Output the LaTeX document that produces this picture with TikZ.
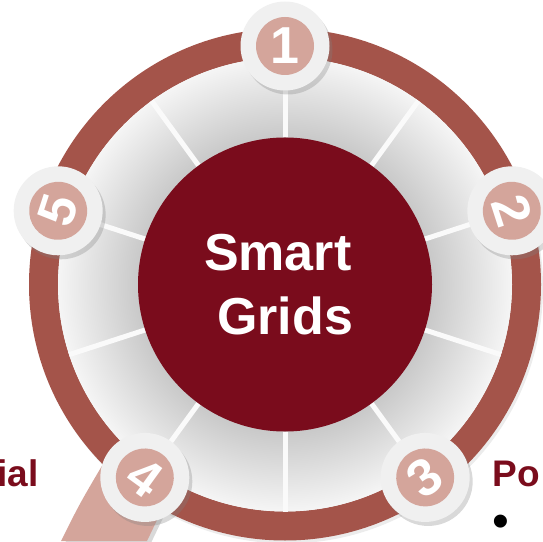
\documentclass[tikz,border=0pt]{standalone}
\usepackage{fontspec}
\setmainfont{Liberation Sans}
\usepackage{tikz}
\usetikzlibrary{calc, shadows}

\definecolor{ringred}{RGB}{164,84,74}
\definecolor{bandpink}{RGB}{212,165,155}
\definecolor{hubred}{RGB}{122,12,28}
\definecolor{rimwhite}{RGB}{240,240,240}
\definecolor{diskdark}{RGB}{200,200,200}
\definecolor{disklight}{RGB}{245,245,245}
\pgfdeclareradialshading{diskshade}{\pgfpoint{0bp}{0bp}}{color(0bp)=(diskdark); color(16bp)=(diskdark); color(25bp)=(disklight); color(50bp)=(disklight)}

\begin{document}
\begin{tikzpicture}[x=1pt, y=1pt,
    softshadow/.style={drop shadow={shadow xshift=3pt, shadow yshift=-4pt, opacity=.3}},
    numrim/.style={circle, fill=rimwhite, minimum size=89pt, inner sep=0pt, softshadow},
    numdisc/.style={circle, fill=bandpink, minimum size=58pt, inner sep=0pt, text=white,
      font=\fontsize{52}{52}\selectfont\bfseries},
    hubnode/.style={circle, fill=hubred, minimum size=294pt, inner sep=0pt, text=white,
      align=center, font=\fontsize{52}{64.5}\selectfont\bfseries},
    sidetext/.style={inner sep=0pt, text=hubred, font=\fontsize{37}{37}\selectfont\bfseries}]
  \useasboundingbox (0,0) rectangle (543,541);
  \coordinate (c) at (285,256.5);
  % band running out of circle 4
  \fill [bandpink, softshadow] (61,0) .. controls (80,38) .. (106,82) -- (172,52) -- (147,0) -- cycle;
  % outer ring and grey disc
  \fill [ringred, even odd rule, drop shadow={shadow xshift=2pt, shadow yshift=-3pt, opacity=.15}]
    (c) circle [radius=256] (c) circle [radius=227];
  \shade [shading=diskshade] (c) circle [radius=227];
  \foreach \a in {18,54,...,342}
    \draw [line width=5pt, white!96!gray] ($(c)+(\a:147)$) -- ($(c)+(\a:227)$);
  \node (hub) at (c) [hubnode] {Smart\hspace*{.278em}\\Grids};
  % numbered steps (angle / turn of the digit)
  \foreach \n/\a/\t in {1/90/0, 2/18/-72, 3/-54/36, 4/-126/-36, 5/162/72} {
    \node (rim\n) at ($(c)+(\a:238.5)$) [numrim] {};
    \node (num\n) at (rim\n) [numdisc, rotate=\t] {\n};
  }
  \node (left) at (38.8,55) [sidetext, anchor=base east] {ial};
  \node (right) at (492.5,55) [sidetext, anchor=base west] {Po};
  \node (dot) at (500.7,3.5) [inner sep=0pt, anchor=base, font=\fontsize{48}{48}\selectfont] {•};
\end{tikzpicture}
\end{document}
